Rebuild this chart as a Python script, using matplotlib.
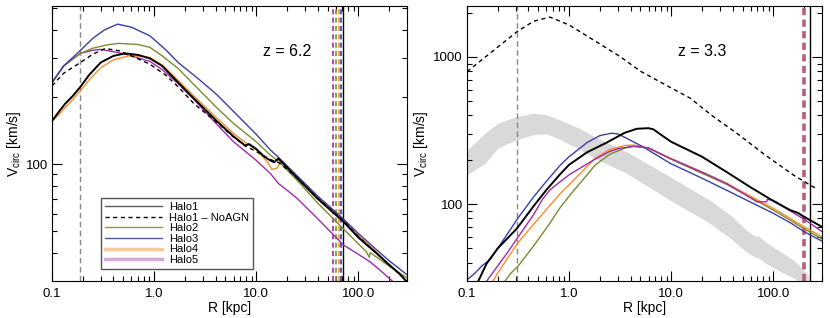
import matplotlib
matplotlib.use("Agg")
import matplotlib.pyplot as plt
from matplotlib.lines import Line2D
from matplotlib.ticker import FixedLocator, FixedFormatter, NullFormatter

plt.rcParams['font.family'] = ['Liberation Sans', 'DejaVu Sans']
plt.rcParams['mathtext.fontset'] = 'custom'
plt.rcParams['mathtext.rm'] = 'Liberation Sans'
plt.rcParams['mathtext.it'] = 'Liberation Sans:italic'

# ---------------- Left panel (z = 6.2) ----------------
L_h1_R = [0.1, 0.115, 0.134, 0.16, 0.19, 0.23, 0.3, 0.4, 0.52, 0.7, 0.91, 1.2, 1.72, 2.5, 4.1, 6, 7.8, 8.5, 10, 12, 13.7, 15, 16.5, 17.5, 25, 40, 71, 100, 150, 200, 250, 300]
L_h1_V = [156, 170, 186, 202, 222, 250, 285, 305, 313, 308, 297, 275, 232, 195, 156, 133, 121, 123, 117, 108, 104, 102, 106, 103, 87, 70, 55.5, 47, 40, 35.5, 32.5, 29.7]

L_h1n_R = [0.1, 0.13, 0.19, 0.25, 0.33, 0.45, 0.6, 0.91, 1.3, 1.72, 2.5, 4.1, 6, 8, 10, 13.7, 17, 25, 40, 71, 100, 150, 200, 300]
L_h1n_V = [224, 255, 285, 310, 329, 322, 305, 280, 250, 222, 185, 154, 132, 120, 114, 105, 101, 87, 70.5, 56, 47.5, 40, 35.5, 30]

L_h2_R = [0.1, 0.13, 0.19, 0.25, 0.35, 0.45, 0.7, 0.91, 1.2, 1.72, 2.5, 4.1, 6, 10, 13.7, 16.5, 25, 40, 71, 100, 120, 128, 131, 200, 300]
L_h2_V = [232, 275, 313, 330, 342, 347, 343, 333, 305, 268, 225, 179, 152, 126, 110, 103, 85, 67, 51.5, 44, 40.6, 38.3, 40.2, 35, 31]

L_h3_R = [0.1, 0.13, 0.19, 0.25, 0.33, 0.44, 0.6, 0.91, 1.3, 1.72, 2.8, 4.1, 6, 8.7, 10, 13.7, 16.6, 25, 40, 71, 100, 150, 200, 300]
L_h3_V = [231, 275, 323, 365, 400, 423, 410, 375, 325, 285, 238, 205, 172, 145, 136, 116, 107, 89, 72, 57, 49, 41.5, 37, 32]

L_h4_R = [0.1, 0.115, 0.134, 0.16, 0.19, 0.23, 0.3, 0.4, 0.58, 0.75, 0.91, 1.2, 1.72, 2.5, 4.1, 6, 8, 10, 12.7, 14.3, 16, 17.2, 18, 25, 40, 71, 100, 150, 200, 300]
L_h4_V = [156, 165, 179, 195, 213, 238, 270, 293, 306, 304, 300, 278, 237, 200, 161, 137, 124, 116, 103, 94.7, 96, 101.4, 103, 88, 71, 56.5, 48, 40.5, 35.5, 30]

L_h5_R = [0.1, 0.13, 0.19, 0.25, 0.3, 0.44, 0.6, 0.91, 1.2, 1.72, 2.5, 4.1, 6, 10, 13.7, 16.5, 25, 40, 71, 100, 130, 170, 215, 240]
L_h5_V = [232, 275, 313, 323, 326, 316, 305, 288, 265, 229, 193, 151, 126, 104, 91, 82, 70.5, 57, 43.6, 39.5, 36.6, 33, 30, 28.5]

L_vdash_gray = 0.19
L_vdash_R = [56, 60.5, 64.6, 68]
L_vsolid = 70.6

# ---------------- Right panel (z = 3.3) ----------------
R_h1_R = [0.12, 0.129, 0.156, 0.2, 0.307, 0.45, 0.6, 0.82, 1.0, 1.5, 2.34, 3.5, 4.6, 6.0, 6.7, 8, 10, 20, 35, 60, 100, 146, 175, 200, 300]
R_h1_V = [26, 30, 39.5, 50, 68, 97, 125, 160, 185, 225, 262, 305, 325, 328, 322, 295, 265, 210, 165, 130, 105, 91, 87, 82, 70]

R_h1n_R = [0.1, 0.2, 0.31, 0.45, 0.65, 1.0, 2.0, 3.2, 5.0, 10.9, 15.4, 25, 44.2, 80, 158.6, 246, 265]
R_h1n_V = [794, 1167, 1487, 1750, 1865, 1650, 1226, 1000, 800, 596, 524, 400, 302, 220, 157, 131, 128]

R_h2_R = [0.22, 0.236, 0.27, 0.318, 0.45, 0.63, 0.82, 1.0, 1.8, 2.5, 3.5, 4.3, 6, 9.8, 20, 35, 60, 100, 150, 200, 300]
R_h2_V = [28, 30, 34, 38, 52, 72, 95, 113, 184, 218, 240, 247, 240, 203, 162, 136, 111, 91, 77, 68, 58]

R_h3_R = [0.095, 0.1, 0.12, 0.14, 0.168, 0.2, 0.25, 0.318, 0.45, 0.6, 0.82, 1.0, 1.5, 2.0, 2.6, 3.0, 3.66, 5.3, 9.8, 20, 35, 60, 100, 150, 200, 300]
R_h3_V = [28, 30.5, 34, 38, 42, 50, 63, 81, 112, 143, 184, 210, 262, 292, 303, 300, 280, 245, 189, 150, 124, 103, 86.5, 74, 65, 56]

R_h4_R = [0.17, 0.18, 0.2, 0.25, 0.318, 0.45, 0.6, 0.82, 1.0, 1.8, 2.5, 3.5, 4.3, 6, 9.8, 20, 35, 60, 100, 150, 200, 300]
R_h4_V = [28, 30, 34, 43, 55, 73, 92, 118, 135, 205, 235, 250, 252, 240, 205, 165, 138, 113, 93.5, 79, 70, 60]

R_h5_R = [0.15, 0.156, 0.2, 0.25, 0.318, 0.45, 0.55, 0.65, 0.82, 1.0, 1.73, 2.5, 3.1, 4.3, 6, 9.8, 20, 35, 69, 86, 87.5, 100, 150, 200, 300]
R_h5_V = [28, 30, 38, 47, 60, 85, 108, 125, 142, 158, 199, 228, 239, 247, 241, 204, 165, 138, 103.7, 103.5, 107.6, 106, 89, 79, 65]

band_R = [0.1, 0.12, 0.15, 0.2, 0.3, 0.45, 0.6, 0.82, 0.9, 1.28, 1.8, 3.66, 9.8, 24, 40, 55, 65, 72, 85, 120, 158, 200, 220]
band_up = [233, 262, 303, 354, 393, 414, 405, 372, 363, 325, 286, 227, 153, 106, 82, 66, 61, 60.5, 55, 47, 41.6, 35.5, 33]
band_lo = [157, 172, 189, 240, 272, 297, 300, 275, 265, 235, 204, 162, 106, 74, 57, 47, 44, 43, 39.5, 34.5, 31.5, 28, 27]

R_vdash_gray = 0.31
R_vdash_red = 201
R_vsolid = 227

c_h2 = '#7a8c2c'
c_h3 = '#3a3fa8'
c_h4 = '#ff8a2a'
c_h5 = '#a02aa8'

fig = plt.figure(figsize=(8.3, 3.18), dpi=100)
W, H = 830, 318
ax1 = fig.add_axes([52 / W, 1 - 281 / H, 355 / W, 275 / H])
ax2 = fig.add_axes([467 / W, 1 - 281 / H, 355 / W, 275 / H])

# left panel
ax1.axvline(L_vdash_gray, color='#888888', lw=1, ls=(0, (4, 2.5)))
for r, c in zip(L_vdash_R, [c_h5, c_h2, c_h4, c_h3]):
    ax1.axvline(r, color=c, lw=1.2, ls=(0, (3, 2)))
ax1.axvline(L_vsolid, color='black', lw=1.0)

ax1.plot(L_h5_R, L_h5_V, color=c_h5, lw=1.0)
ax1.plot(L_h4_R, L_h4_V, color=c_h4, lw=1.0)
ax1.plot(L_h2_R, L_h2_V, color=c_h2, lw=1.0)
ax1.plot(L_h3_R, L_h3_V, color=c_h3, lw=1.0)
ax1.plot(L_h1n_R, L_h1n_V, color='black', lw=1.0, ls=(0, (3, 2.5)))
ax1.plot(L_h1_R, L_h1_V, color='black', lw=1.4)

# right panel
ax2.fill_between(band_R, band_lo, band_up, color='#d9d9d9', lw=0)
ax2.axvline(R_vdash_gray, color='#888888', lw=1, ls=(0, (4, 2.5)))
ax2.axvline(R_vdash_red, color='#b8607a', lw=2.6, ls=(0, (2, 1.2)))
ax2.axvline(R_vsolid, color='black', lw=1.0)

ax2.plot(R_h1n_R, R_h1n_V, color='black', lw=1.0, ls=(0, (3, 2.5)))
ax2.plot(R_h2_R, R_h2_V, color=c_h2, lw=1.0)
ax2.plot(R_h4_R, R_h4_V, color=c_h4, lw=1.0)
ax2.plot(R_h3_R, R_h3_V, color=c_h3, lw=1.0)
ax2.plot(R_h5_R, R_h5_V, color=c_h5, lw=1.0)
ax2.plot(R_h1_R, R_h1_V, color='black', lw=1.4)

for ax in (ax1, ax2):
    ax.set_xscale('log')
    ax.set_yscale('log')
    ax.set_xlim(0.1, 300)
    ax.xaxis.set_major_locator(FixedLocator([0.1, 1, 10, 100]))
    ax.xaxis.set_major_formatter(FixedFormatter(['0.1', '1.0', '10.0', '100.0']))
    ax.xaxis.set_minor_locator(FixedLocator([m * d for d in (0.1, 1, 10, 100) for m in range(2, 10) if m * d <= 300]))
    ax.xaxis.set_minor_formatter(NullFormatter())
    ax.tick_params(which='both', direction='in', top=True, right=True, labelsize=9.5)
    ax.tick_params(which='major', length=7, width=0.8, pad=5)
    ax.tick_params(which='minor', length=3.5, width=0.8)
    ax.tick_params(axis='y', which='major', pad=3)
    for s in ax.spines.values():
        s.set_linewidth(0.8)
    ax.set_xlabel('R [kpc]', fontsize=10, labelpad=1)
    ax.set_ylabel(r'V$_{\rm circ}$ [km/s]', fontsize=10, labelpad=2)

ax1.set_ylim(30, 510)
ax1.yaxis.set_major_locator(FixedLocator([100]))
ax1.yaxis.set_major_formatter(FixedFormatter(['100']))
ax1.yaxis.set_minor_locator(FixedLocator([40, 50, 60, 70, 80, 90, 200, 300, 400, 500]))
ax1.yaxis.set_minor_formatter(NullFormatter())

ax2.set_ylim(30, 2220)
ax2.yaxis.set_major_locator(FixedLocator([100, 1000]))
ax2.yaxis.set_major_formatter(FixedFormatter(['100', '1000']))
ax2.yaxis.set_minor_locator(FixedLocator([40, 50, 60, 70, 80, 90, 200, 300, 400, 500, 600, 700, 800, 900, 2000]))
ax2.yaxis.set_minor_formatter(NullFormatter())

ax1.text(0.662, 0.833, 'z = 6.2', transform=ax1.transAxes, ha='center', va='center', fontsize=11.5)
ax2.text(0.662, 0.833, 'z = 3.3', transform=ax2.transAxes, ha='center', va='center', fontsize=11.5)

handles = [
    Line2D([], [], color='#606060', lw=1.0),
    Line2D([], [], color='black', lw=1.0, ls=(0, (3, 2.5))),
    Line2D([], [], color='#8a9a40', lw=1.0),
    Line2D([], [], color='#5058a8', lw=1.0),
    Line2D([], [], color='#fbc89a', lw=2.5),
    Line2D([], [], color='#d8a8dc', lw=2.5),
]
labels = ['Halo1', 'Halo1 \u2013 NoAGN', 'Halo2', 'Halo3', 'Halo4', 'Halo5']
leg = ax1.legend(handles, labels, loc='lower left', bbox_to_anchor=(0.137, 0.044),
                 borderaxespad=0, fontsize=8, handlelength=5.2, handletextpad=0.6,
                 labelspacing=0.05, borderpad=0.35, fancybox=False, framealpha=1)
leg.get_frame().set_edgecolor('#555555')
leg.get_frame().set_linewidth(1.0)

fig.savefig('out.png', dpi=100)
